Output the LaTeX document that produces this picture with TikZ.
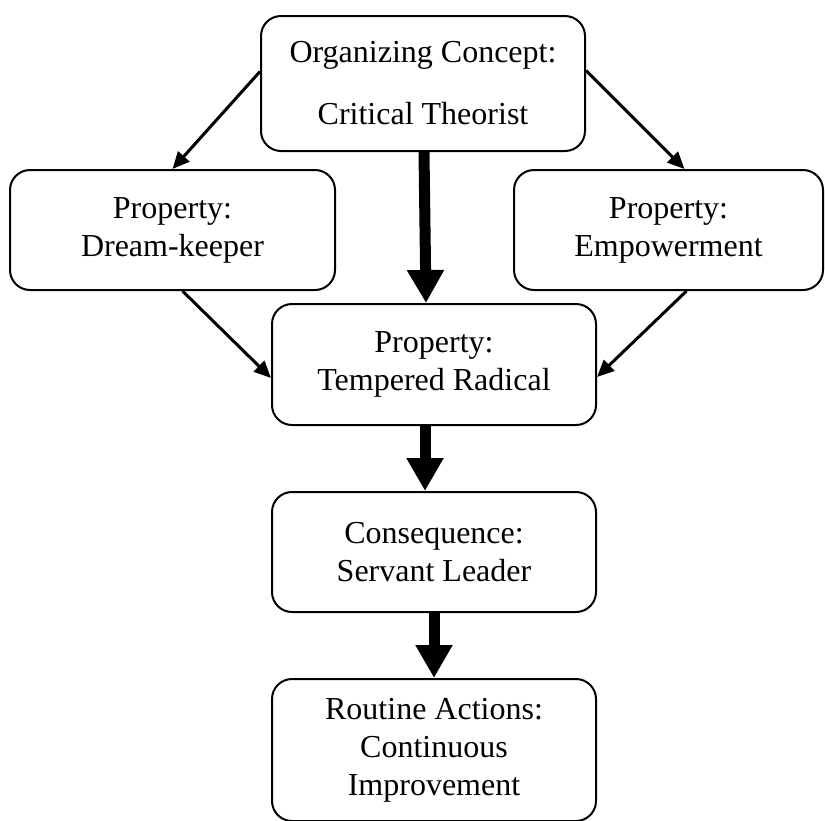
\documentclass[tikz,border=0pt]{standalone}
\usepackage{fontspec}
\setmainfont{Liberation Serif}
\usetikzlibrary{arrows.meta,calc}
\begin{document}
\begin{tikzpicture}[x=1pt,y=-1pt,
  box/.style={draw=black, line width=2pt, rounded corners=20pt, fill=white,
    align=center, inner sep=0pt, font=\fontsize{32}{38}\selectfont},
  thin/.style={line width=3pt, -{Triangle[length=17pt,width=15pt]}},
  thick/.style={line width=11pt, -{Triangle[length=33pt,width=35pt]}}]
\useasboundingbox (0,0) rectangle (825,820);
\node[box, minimum width=324pt, minimum height=135pt] (top) at (423,83.5)
  {Organizing Concept:\\[24pt]Critical Theorist};
\node[box, minimum width=325pt, minimum height=120pt] (left) at (172.5,230)
  {Property:\\Dream-keeper};
\node[box, minimum width=309pt, minimum height=120pt] (right) at (668.5,230)
  {Property:\\Empowerment};
\node[box, minimum width=324pt, minimum height=121pt] (mid) at (434,364.5)
  {Property:\\Tempered Radical};
\node[box, minimum width=324pt, minimum height=120pt] (cons) at (434,552)
  {Consequence:\\Servant Leader};
\node[box, minimum width=324pt, minimum height=142pt] (rout) at (434,750)
  {Routine Actions:\\Continuous\\Improvement};
\draw[thin] ([yshift=12pt]top.west) -- (left.north);
\draw[thin] ([yshift=13pt]top.east) -- ([xshift=16pt]right.north);
\draw[thick] ([xshift=1pt]top.south) -- ([xshift=-8pt]mid.north);
\draw[thin] ([xshift=10pt]left.south) -- ([yshift=-13.5pt]mid.west);
\draw[thin] ([xshift=18pt]right.south) -- ([yshift=-12.5pt]mid.east);
\draw[thick] ([xshift=-9pt]mid.south) -- ([xshift=-9pt]cons.north);
\draw[thick] (cons.south) -- (rout.north);
\end{tikzpicture}
\end{document}
